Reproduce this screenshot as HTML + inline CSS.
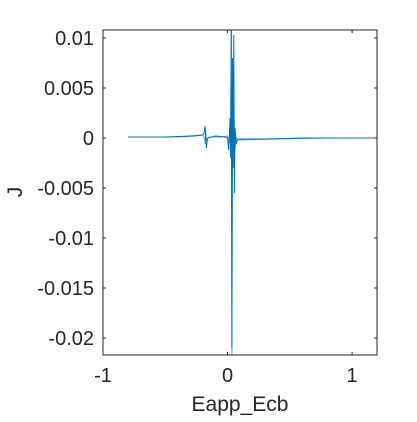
<!DOCTYPE html>
<html><head><meta charset="utf-8"><style>
body{margin:0;background:#fff;width:417px;height:417px;overflow:hidden}
text{font-family:"Liberation Sans",sans-serif;fill:#262626}
</style></head><body>
<svg id="chart" width="417" height="417">
<rect x="0" y="0" width="417" height="417" fill="#fff"/>
<g id="plot"></g>
<g id="axes"></g>
</svg>
<script>
const xTicks=[-1,0,1];
const xTickLabels=["-1","0","1"];
const yTicks=[0.01,0.005,0,-0.005,-0.01,-0.015,-0.02];
const yTickLabels=["0.01","0.005","0","-0.005","-0.01","-0.015","-0.02"];
const seriesAx=[-0.8,-0.5,-0.3,-0.2,-0.19,-0.18,-0.175,-0.17,-0.16,-0.1,-0.02,0.0,0.01,0.02,0.025,0.03,0.035,0.04,0.045,0.05,0.055,0.06,0.07,0.08,0.1,0.3,0.6,1.0,1.2];
const seriesAy=[0.0001,0.0001,0.0002,0.0003,0.0004,0.0012,-0.0002,-0.001,0.0,0.0002,0.0001,0.0,-0.0012,0.002,-0.002,0.012,-0.021,0.008,-0.003,0.0103,-0.0055,0.001,-0.0006,-0.0002,-0.0001,-0.0001,0.0,0.0,0.0];
const seriesBx=[-0.7,-0.4,-0.25,-0.2,-0.185,-0.18,-0.175,-0.17,-0.15,-0.05,0.0,0.015,0.025,0.03,0.035,0.04,0.045,0.05,0.06,0.07,0.1,0.4,0.8,1.2];
const seriesBy=[0.0001,0.0001,0.0002,0.0003,0.0,-0.0006,0.0008,-0.0003,0.0001,0.0001,0.0002,-0.0005,0.002,0.011,-0.022,0.004,-0.001,0.003,-0.0012,0.0,-0.0002,-0.0001,0.0,0.0];
const L=103,R=377,T=30,B=355,xmin=-1,xmax=1.2,ymin=-0.0217,ymax=0.0108;
const X=v=>L+(v-xmin)/(xmax-xmin)*(R-L);
const Y=v=>T+(ymax-v)/(ymax-ymin)*(B-T);
const NS="http://www.w3.org/2000/svg";
const plot=document.getElementById('plot'),axes=document.getElementById('axes');
function mk(tag,attrs,parent){const e=document.createElementNS(NS,tag);for(const k in attrs)e.setAttribute(k,attrs[k]);parent.appendChild(e);return e;}
const cp=mk('clipPath',{id:'cp'},plot);mk('rect',{x:L,y:T,width:R-L,height:B-T},cp);
function line(xs,ys,color,name){
 const p=mk('polyline',{points:xs.map((x,i)=>X(x)+','+Y(ys[i])).join(' '),fill:'none',stroke:color,'stroke-width':1,'clip-path':'url(#cp)'},plot);
 
 
}
line(seriesBx,seriesBy,'#5aa8dc','series-light');
line(seriesAx,seriesAy,'#0072bd','series-dark');
const box=mk('rect',{x:L,y:T,width:R-L,height:B-T,fill:'none',stroke:'#262626','stroke-width':1},axes);


xTicks.forEach((v,i)=>{const x=X(v);
 mk('line',{x1:x,x2:x,y1:B,y2:B-3,stroke:'#262626'},axes);mk('line',{x1:x,x2:x,y1:T,y2:T+3,stroke:'#262626'},axes);
 const t=mk('text',{x:x,y:B+27,'text-anchor':'middle','font-size':20},axes);t.textContent=xTickLabels[i];
 
 });
yTicks.forEach((v,i)=>{const y=Y(v);
 mk('line',{x1:L,x2:L+3,y1:y,y2:y,stroke:'#262626'},axes);mk('line',{x1:R,x2:R-3,y1:y,y2:y,stroke:'#262626'},axes);
 const t=mk('text',{x:L-9,y:y+7,'text-anchor':'end','font-size':20},axes);t.textContent=yTickLabels[i];
 
 });
const xt=mk('text',{x:240,y:411,'text-anchor':'middle','font-size':21},axes);xt.textContent='Eapp_Ecb';


const yt=mk('text',{x:0,y:0,'text-anchor':'middle','font-size':21,transform:'translate(22,192) rotate(-90)'},axes);yt.textContent='J';


</script>
</body></html>
